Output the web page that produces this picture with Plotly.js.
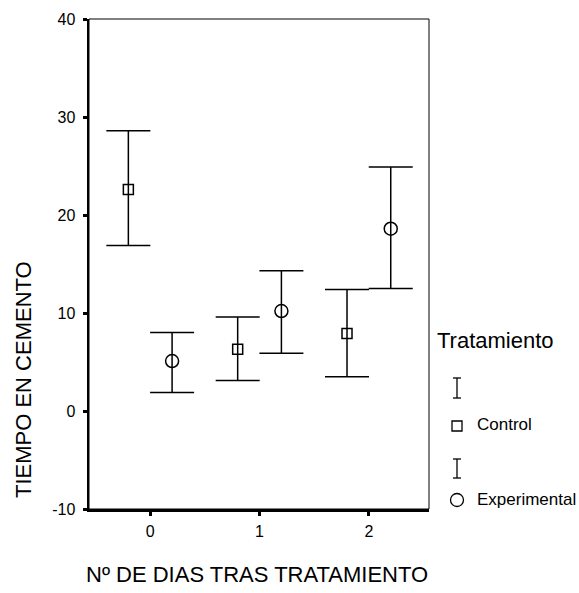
<!DOCTYPE html>
<html>
<head>
<meta charset="utf-8">
<script src="https://cdn.plot.ly/plotly-3.0.1.min.js"></script>
<style>
  html, body { margin: 0; padding: 0; background: #fff; }
  #chart { width: 579px; height: 593px; }
</style>
</head>
<body>
<div id="chart"></div>
<script>
// Days after treatment (x categories)
const days = [0, 1, 2];
const dayLabels = ['0', '1', '2'];

// Control group: mean and interval bounds
const controlMean  = [22.6, 6.3, 7.9];
const controlUpper = [28.6, 9.6, 12.4];
const controlLower = [16.9, 3.1, 3.5];

// Experimental group: mean and interval bounds
const expMean  = [5.1, 10.2, 18.6];
const expUpper = [8.0, 14.3, 24.9];
const expLower = [1.9, 5.9, 12.5];

// Y axis ticks (plain hyphen for the negative label)
const yTicks = [-10, 0, 10, 20, 30, 40];
const yTickLabels = ['-10', '0', '10', '20', '30', '40'];

const W = 579, H = 593;
const M = { l: 89, r: 150, t: 19, b: 84 };
const PW = W - M.l - M.r, PH = H - M.t - M.b;
// pixel position -> paper coordinates (for legend glyphs / text)
const px = x => (x - M.l) / PW;
const py = y => (H - M.b - y) / PH;

const FONT = 'Liberation Sans, Arial, sans-serif';
const dodge = 0.2;

function groupTrace(name, mean, upper, lower, shift, symbol, size) {
  return {
    type: 'scatter',
    mode: 'markers',
    name: name,
    x: days.map(d => d + shift),
    y: mean,
    marker: { symbol: symbol, size: size, color: '#000',
              line: { color: '#000', width: 1.5 } },
    error_y: {
      type: 'data', symmetric: false,
      array: upper.map((u, i) => u - mean[i]),
      arrayminus: lower.map((l, i) => mean[i] - l),
      color: '#000', thickness: 1.5, width: 22
    },
    showlegend: false,
    hoverinfo: 'skip'
  };
}

const traces = [
  groupTrace('Control', controlMean, controlUpper, controlLower, -dodge, 'square-open', 10),
  groupTrace('Experimental', expMean, expUpper, expLower, dodge, 'circle-open', 13)
];

// legend glyph: small error-bar "I"
function barGlyph(cx, y0, y1) {
  const hw = 4;
  const ln = { color: '#000', width: 1.3 };
  return [
    { type: 'line', xref: 'paper', yref: 'paper', x0: px(cx), x1: px(cx), y0: py(y0), y1: py(y1), line: ln },
    { type: 'line', xref: 'paper', yref: 'paper', x0: px(cx - hw), x1: px(cx + hw), y0: py(y0), y1: py(y0), line: ln },
    { type: 'line', xref: 'paper', yref: 'paper', x0: px(cx - hw), x1: px(cx + hw), y0: py(y1), y1: py(y1), line: ln }
  ];
}

const shapes = [
  // thin frame on top/right
  { type: 'rect', xref: 'paper', yref: 'paper', x0: 0, x1: 1, y0: 0, y1: 1, line: { color: '#000', width: 1 } },
  ...barGlyph(457, 378, 398),
  { type: 'rect', xref: 'paper', yref: 'paper', x0: px(452), x1: px(462), y0: py(421), y1: py(431), line: { color: '#000', width: 1.3 } },
  ...barGlyph(457, 459, 478),
  { type: 'circle', xref: 'paper', yref: 'paper', x0: px(450.5), x1: px(463.5), y0: py(493.5), y1: py(506.5), line: { color: '#000', width: 1.3 } }
];

const annotations = [
  { text: 'Tratamiento', xref: 'paper', yref: 'paper', x: px(435), y: py(340), xanchor: 'left', yanchor: 'middle', showarrow: false, font: { family: FONT, size: 22, color: '#000' } },
  { text: 'Control', xref: 'paper', yref: 'paper', x: px(475), y: py(424), xanchor: 'left', yanchor: 'middle', showarrow: false, font: { family: FONT, size: 17, color: '#000' } },
  { text: 'Experimental', xref: 'paper', yref: 'paper', x: px(475), y: py(499), xanchor: 'left', yanchor: 'middle', showarrow: false, font: { family: FONT, size: 17, color: '#000' } },
  { text: 'TIEMPO EN CEMENTO', xref: 'paper', yref: 'paper', x: px(23), y: py(380), xanchor: 'center', yanchor: 'middle', textangle: -90, showarrow: false, font: { family: FONT, size: 22, color: '#000' } },
  { text: 'Nº DE DIAS TRAS TRATAMIENTO', xref: 'paper', yref: 'paper', x: px(257), y: py(574), xanchor: 'center', yanchor: 'middle', showarrow: false, font: { family: FONT, size: 22, color: '#000' } }
];

const layout = {
  width: W, height: H,
  margin: M,
  paper_bgcolor: '#fff', plot_bgcolor: '#fff',
  font: { family: FONT, color: '#000', size: 16 },
  xaxis: {
    range: [-0.56, 2.55],
    tickvals: days, ticktext: dayLabels,
    ticks: 'outside', ticklen: 4, tickwidth: 3, tickcolor: '#000',
    ticklabelstandoff: 2,
    showgrid: false, zeroline: false,
    showline: true, linecolor: '#000', linewidth: 2.5,
    tickfont: { family: FONT, size: 16, color: '#000' },
    fixedrange: true
  },
  yaxis: {
    range: [-10, 40],
    tickvals: yTicks, ticktext: yTickLabels,
    ticks: 'outside', ticklen: 4, tickwidth: 3, tickcolor: '#000',
    ticklabelstandoff: 4,
    showgrid: false, zeroline: false,
    showline: true, linecolor: '#000', linewidth: 2.5,
    tickfont: { family: FONT, size: 16, color: '#000' },
    fixedrange: true
  },
  shapes: shapes,
  annotations: annotations,
  showlegend: false
};

Plotly.newPlot('chart', traces, layout, { staticPlot: true, displayModeBar: false });
</script>
</body>
</html>
